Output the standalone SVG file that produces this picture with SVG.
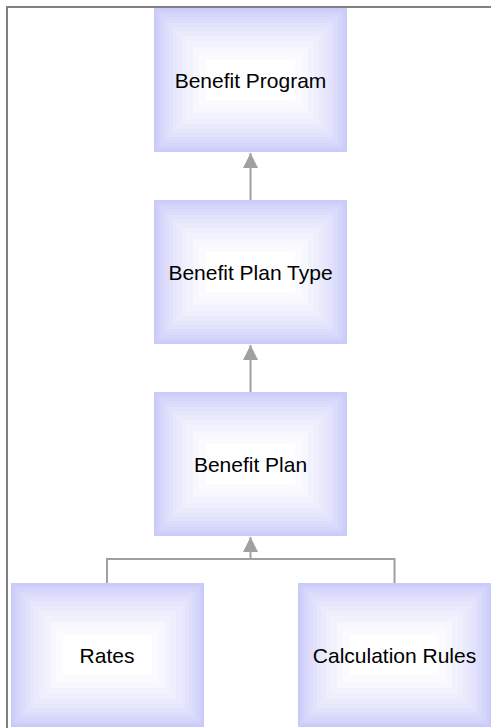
<svg xmlns="http://www.w3.org/2000/svg" xmlns:xlink="http://www.w3.org/1999/xlink" width="491" height="728" viewBox="0 0 491 728">
  <style>
    .label { font-family: "Liberation Sans", Arial, sans-serif; font-size: 21px; fill: #000; text-anchor: middle; }
    .wire { fill: none; stroke: #a0a0a0; stroke-width: 2; }
    .frame { fill: none; stroke: #808080; stroke-width: 2; }
  </style>
  <defs>
    <marker id="arrow" markerUnits="userSpaceOnUse" markerWidth="16" markerHeight="16" refX="15" refY="7.5" orient="auto">
      <path d="M0,0 L15,7.5 L0,15 Z" fill="#a0a0a0"/>
    </marker>
    <!-- concentric band fill shared by every box (193 x 144) -->
    <symbol id="box" viewBox="0 0 193 144" width="193" height="144">
      <rect x="0" y="0" width="193" height="144" fill="#cacafa"/>
      <rect x="2" y="2" width="189" height="140" fill="#ceceFa"/>
      <rect x="4" y="4" width="185" height="136" fill="#d2d2fb"/>
      <rect x="6" y="6" width="181" height="132" fill="#d6d6fb"/>
      <rect x="9" y="9" width="175" height="126" fill="#dadafb"/>
      <rect x="12" y="12" width="169" height="120" fill="#dedefc"/>
      <rect x="15" y="15" width="163" height="114" fill="#e2e2fc"/>
      <rect x="19" y="19" width="155" height="106" fill="#e6e6fc"/>
      <rect x="23" y="23" width="147" height="98" fill="#eaeafd"/>
      <rect x="28" y="28" width="137" height="88" fill="#eeeefd"/>
      <rect x="33" y="33" width="127" height="78" fill="#f2f2fe"/>
      <rect x="39" y="39" width="115" height="66" fill="#f7f7fe"/>
      <rect x="45" y="45" width="103" height="54" fill="#fbfbff"/>
      <rect x="52" y="52" width="89" height="40" fill="#ffffff"/>
    </symbol>
  </defs>

  <rect width="491" height="728" fill="#ffffff"/>
  <path class="frame" d="M7,728 V7 H491"/>

  <g id="connectors">
    <path class="wire" d="M250.5,200 V153" marker-end="url(#arrow)"/>
    <path class="wire" d="M250.5,392 V345" marker-end="url(#arrow)"/>
    <path class="wire" d="M107,583 V559 H394.5 V583"/>
    <path class="wire" d="M250.5,559 V537" marker-end="url(#arrow)"/>
  </g>

  <g id="benefit-program">
    <use xlink:href="#box" x="154" y="8"/>
    <text class="label" x="250.5" y="87.5">Benefit Program</text>
  </g>

  <g id="benefit-plan-type">
    <use xlink:href="#box" x="154" y="200"/>
    <text class="label" x="250.5" y="279.5">Benefit Plan Type</text>
  </g>

  <g id="benefit-plan">
    <use xlink:href="#box" x="154" y="392"/>
    <text class="label" x="250.5" y="471.5">Benefit Plan</text>
  </g>

  <g id="rates">
    <use xlink:href="#box" x="11" y="583"/>
    <text class="label" x="107" y="662.5">Rates</text>
  </g>

  <g id="calculation-rules">
    <use xlink:href="#box" x="298" y="583"/>
    <text class="label" x="394.5" y="662.5">Calculation Rules</text>
  </g>
</svg>
